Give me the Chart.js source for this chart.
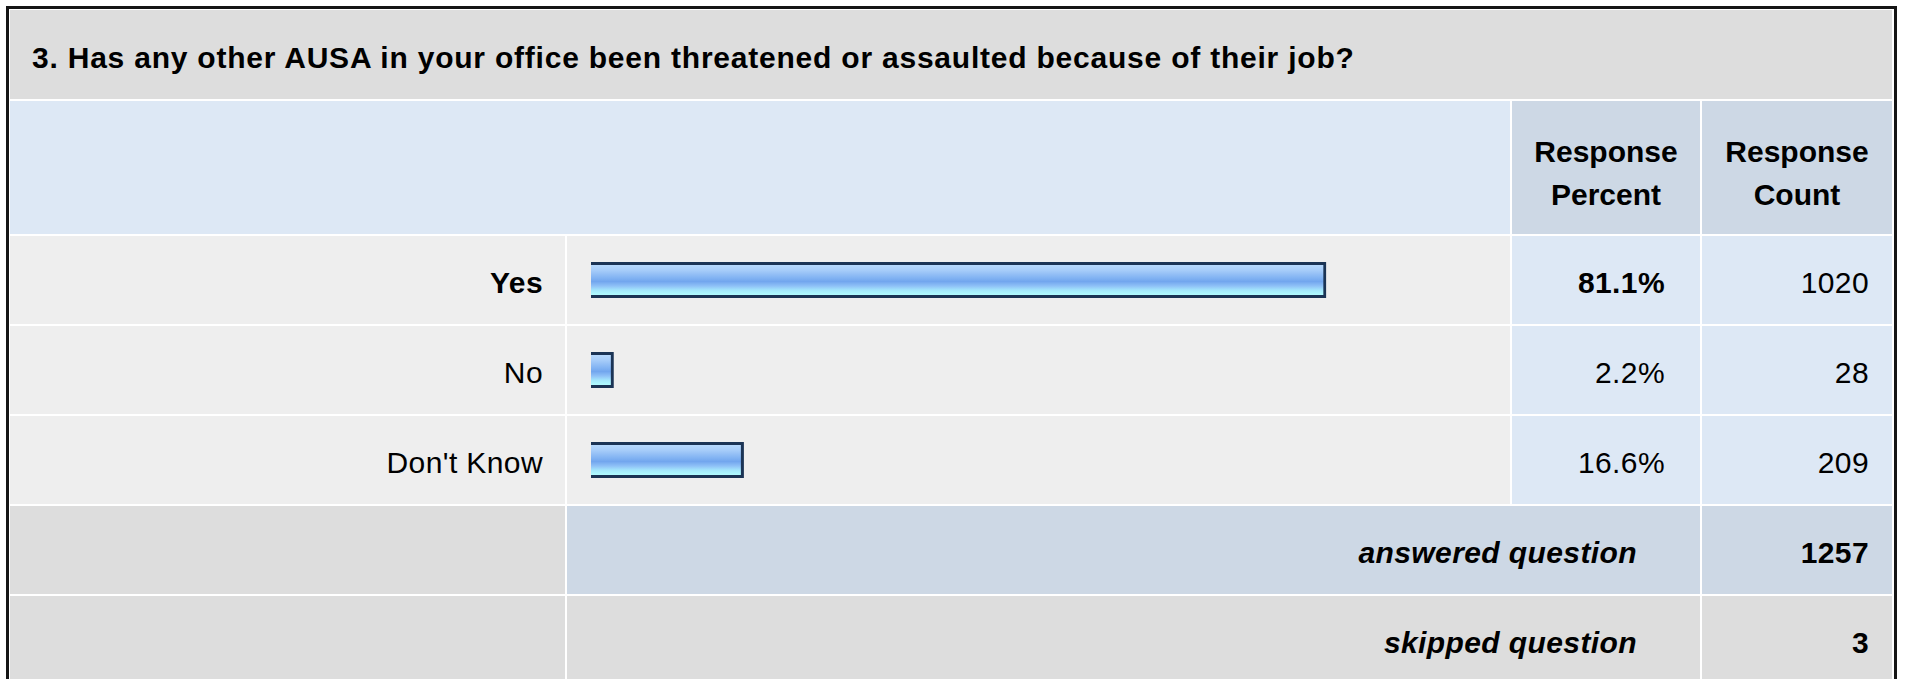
<!DOCTYPE html>
<html>
<head>
<meta charset="utf-8">
<script src="https://cdn.jsdelivr.net/npm/chart.js@4"></script>
<style>
html,body{margin:0;padding:0;background:#fff;}
body{width:1907px;height:679px;overflow:hidden;position:relative;font-family:"Liberation Sans",Arial,Helvetica,sans-serif;color:#000;}
.frame{position:absolute;left:6px;top:6px;width:1891px;height:720px;border:3px solid #151515;box-sizing:border-box;background:#fff;}
.c{position:absolute;box-sizing:border-box;font-size:30px;display:flex;align-items:center;white-space:nowrap;letter-spacing:0.4px;}
.r{justify-content:flex-end;}
.m{justify-content:center;text-align:center;letter-spacing:0;}
.b{font-weight:bold;}
.bi{font-weight:bold;font-style:italic;}
#chartBox{position:absolute;left:567px;top:235px;width:943px;height:270px;}
</style>
</head>
<body>
<div class="frame"></div>
<div id="cells"></div>
<div id="chartBox"><canvas id="bars" width="943" height="270"></canvas></div>
<script>
// ---- data ----
const question = "3. Has any other AUSA in your office been threatened or assaulted because of their job?";
const categories = ["Yes", "No", "Don't Know"];
const percents = [81.1, 2.2, 16.6];
const counts = [1020, 28, 209];
const headerLabels = ["Response<br>Percent", "Response<br>Count"];
const answeredLabel = "answered question";
const skippedLabel = "skipped question";
const answeredCount = 1257;
const skippedCount = 3;

// ---- layout (table cells) ----
const X = {l0:10, l1:565, b0:567, b1:1510, p0:1512, p1:1700, c0:1702, c1:1892};
const ROW0 = 236, ROWH = 88, GAP = 2;
const GRAY = "#dddddd", LIGHT = "#eeeeee", BLUE = "#dde8f5", BLUE2 = "#cdd8e5";
const host = document.getElementById("cells");
function cell(x0, x1, y0, y1, bg, html, cls, style) {
  const d = document.createElement("div");
  d.className = "c " + (cls || "");
  d.style.left = x0 + "px"; d.style.top = y0 + "px";
  d.style.width = (x1 - x0) + "px"; d.style.height = (y1 - y0) + "px";
  d.style.background = bg;
  if (style) Object.assign(d.style, style);
  d.innerHTML = html || "";
  host.appendChild(d);
}
const PT = "5px";
// title
cell(X.l0, X.c1, 10, 99, GRAY, question, "b", {paddingLeft:"22px", paddingTop:"7px", letterSpacing:"0.78px"});
// header
cell(X.l0, X.b1, 101, 234, BLUE, "");
cell(X.p0, X.p1, 101, 234, BLUE2, headerLabels[0], "b m", {lineHeight:"43px", paddingTop:"11px"});
cell(X.c0, X.c1, 101, 234, BLUE2, headerLabels[1], "b m", {lineHeight:"43px", paddingTop:"11px"});
// data rows
const topIdx = percents.indexOf(Math.max(...percents));
categories.forEach((cat, i) => {
  const y0 = ROW0 + i * (ROWH + GAP), y1 = y0 + ROWH;
  const w = i === topIdx ? "b" : "";
  cell(X.l0, X.l1, y0, y1, LIGHT, cat, "r " + w, {paddingRight:"22px", paddingTop:PT});
  cell(X.b0, X.b1, y0, y1, LIGHT, "");
  cell(X.p0, X.p1, y0, y1, BLUE, percents[i].toFixed(1) + "%", "r " + w, {paddingRight:"35px", paddingTop:PT});
  cell(X.c0, X.c1, y0, y1, BLUE, String(counts[i]), "r", {paddingRight:"23px", paddingTop:PT});
});
// summary rows
const ya = ROW0 + 3 * (ROWH + GAP);
cell(X.l0, X.l1, ya, ya + ROWH, GRAY, "");
cell(X.b0, X.p1, ya, ya + ROWH, BLUE2, answeredLabel, "r bi", {paddingRight:"63px", paddingTop:PT});
cell(X.c0, X.c1, ya, ya + ROWH, BLUE2, String(answeredCount), "r b", {paddingRight:"23px", paddingTop:PT});
const ys = ya + ROWH + GAP;
cell(X.l0, X.l1, ys, ys + ROWH, GRAY, "");
cell(X.b0, X.p1, ys, ys + ROWH, GRAY, skippedLabel, "r bi", {paddingRight:"63px", paddingTop:PT});
cell(X.c0, X.c1, ys, ys + ROWH, GRAY, String(skippedCount), "r b", {paddingRight:"23px", paddingTop:PT});

// ---- bars (Chart.js) ----
function barFill(ctx) {
  const chart = ctx.chart;
  if (!chart.chartArea || !chart.scales.y) return "#86b8f3";
  const yc = chart.scales.y.getPixelForValue(ctx.dataIndex);
  const g = chart.ctx.createLinearGradient(0, yc - 15, 0, yc + 15);
  g.addColorStop(0.00, "#b6d8fc");
  g.addColorStop(0.18, "#a6ccf9");
  g.addColorStop(0.42, "#83b4f3");
  g.addColorStop(0.55, "#72a6ee");
  g.addColorStop(0.70, "#8fc1f7");
  g.addColorStop(0.86, "#a6ecfd");
  g.addColorStop(1.00, "#b0fcff");
  return g;
}
new Chart(document.getElementById("bars"), {
  type: "bar",
  data: {
    labels: categories,
    datasets: [{
      data: percents,
      backgroundColor: barFill,
      borderColor: "#1b3455",
      borderWidth: 3,
      borderSkipped: false,
      inflateAmount: 3,
      barThickness: 30
    }]
  },
  options: {
    indexAxis: "y",
    responsive: false,
    devicePixelRatio: 1,
    animation: false,
    layout: {padding: {left: 24, right: 16, top: 0, bottom: 0}},
    scales: {
      x: {display: false, min: 0, max: 100},
      y: {display: false}
    },
    plugins: {legend: {display: false}, tooltip: {enabled: false}}
  }
});
</script>
</body>
</html>
